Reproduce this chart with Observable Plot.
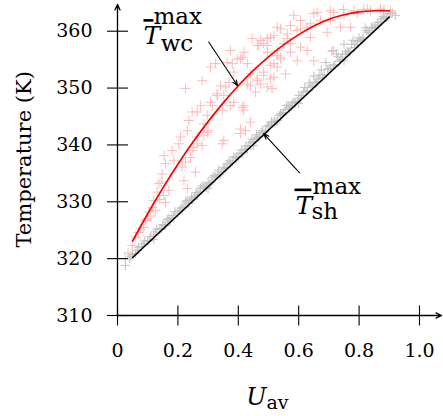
<!DOCTYPE html>
<html>
<head>
<meta charset="utf-8">
<script src="https://cdn.jsdelivr.net/npm/d3@7"></script>
<script src="https://cdn.jsdelivr.net/npm/@observablehq/plot@0.6"></script>
<style>
  html, body { margin: 0; padding: 0; background: #fff; }
  svg { display: block; }
</style>
</head>
<body>
<div id="chart"></div>
<script>
// ---- data ----
const xTicks = [0, 0.2, 0.4, 0.6, 0.8, 1.0];
const yTicks = [310, 320, 330, 340, 350, 360];

// fitted curve of max winding temperature (red)
const wcX = [0.05, 0.10, 0.15, 0.20, 0.25, 0.30, 0.35, 0.40, 0.45, 0.50, 0.55, 0.60, 0.65, 0.70, 0.75, 0.80, 0.85, 0.90];
const wcY = [323.1, 327.9, 332.4, 336.6, 340.5, 344.1, 347.4, 350.4, 353.1, 355.5, 357.6, 359.4, 360.9, 362.1, 362.9, 363.4, 363.6, 363.6];

// fitted line of max shell temperature (black)
const shX = [0.05, 0.90];
const shY = [320.2, 362.5];

// scattered samples, winding (pink)
const pinkX = [0.026,0.035,0.049,0.06,0.07,0.076,0.087,0.093,0.098,0.104,0.11,0.115,0.12,0.125,0.131,0.137,0.14,0.145,0.153,0.159,0.17,0.148,0.159,0.154,0.181,0.187,0.203,0.209,0.214,0.22,0.231,0.225,0.242,0.258,0.247,0.264,0.28,0.286,0.347,0.30,0.231,0.225,0.247,0.236,0.286,0.297,0.314,0.33,0.341,0.358,0.347,0.374,0.413,0.44,0.407,0.38,0.325,0.374,0.413,0.43,0.44,0.43,0.457,0.474,0.484,0.507,0.529,0.512,0.468,0.496,0.529,0.551,0.352,0.297,0.264,0.252,0.28,0.308,0.363,0.396,0.463,0.484,0.507,0.529,0.562,0.584,0.606,0.628,0.65,0.672,0.716,0.75,0.783,0.827,0.871,0.904,0.54,0.518,0.606,0.639,0.694,0.738,0.573,0.595,0.595,0.628,0.65,0.639,0.705,0.716,0.772,0.794,0.838,0.882,0.556,0.518,0.417,0.424,0.661,0.705,0.748,0.815,0.573,0.54,0.518,0.496,0.474,0.606,0.562,0.573,0.54,0.496,0.463,0.446,0.419,0.484,0.507,0.496,0.463,0.407,0.385,0.369,0.33,0.352,0.308,0.275,0.264,0.385,0.419,0.44,0.529,0.407];
const pinkY = [320.0,321.0,322.3,323.8,324.6,325.2,325.5,326.7,327.0,328.2,327.5,329.0,330.2,328.5,331.7,333.2,330.4,333.5,331.1,329.9,332.0,334.9,336.7,338.1,339.0,337.3,340.2,341.4,336.1,333.7,332.3,337.0,337.8,335.2,339.0,340.2,339.9,341.7,340.2,342.5,342.5,349.9,345.8,344.3,343.7,345.2,346.9,349.0,350.4,350.2,346.1,346.9,346.6,344.0,342.8,354.3,354.3,356.6,355.4,354.3,352.5,350.7,349.3,350.7,352.8,354.0,353.7,349.9,357.5,357.5,356.6,357.8,340.8,342.2,341.4,339.6,351.3,353.7,354.5,355.1,351.3,357.8,358.9,360.7,359.5,362.8,361.9,360.7,363.1,361.9,363.3,362.8,363.6,363.9,363.9,363.6,355.4,354.3,357.2,358.9,359.8,360.7,357.8,360.1,354.8,356.6,354.8,361.3,361.9,356.6,360.7,363.1,363.6,363.6,352.5,351.9,346.1,342.5,363.3,363.6,363.8,363.8,361.0,360.4,359.2,358.7,358.4,360.4,358.7,356.3,355.1,356.3,357.5,358.7,356.3,352.2,351.6,350.2,351.6,355.1,352.8,351.0,348.7,348.7,347.5,346.9,345.8,347.5,346.9,350.4,355.7,342.0];

// scattered samples, shell (gray)
const grayX = [0.026,0.04,0.05,0.06,0.07,0.08,0.09,0.10,0.11,0.12,0.13,0.14,0.15,0.16,0.17,0.18,0.19,0.20,0.21,0.22,0.23,0.24,0.25,0.26,0.27,0.28,0.29,0.30,0.31,0.32,0.33,0.34,0.35,0.36,0.37,0.38,0.39,0.40,0.41,0.42,0.43,0.44,0.45,0.46,0.47,0.48,0.49,0.50,0.51,0.52,0.53,0.54,0.55,0.56,0.57,0.58,0.59,0.60,0.61,0.62,0.63,0.64,0.65,0.66,0.67,0.68,0.69,0.70,0.71,0.72,0.73,0.74,0.75,0.76,0.77,0.78,0.79,0.80,0.81,0.82,0.83,0.84,0.85,0.86,0.87,0.88,0.89,0.90,0.91,0.12,0.30,0.45,0.60,0.75,0.92,0.155,0.255,0.355,0.455,0.555,0.655,0.755,0.855,0.205,0.305,0.405,0.505,0.605,0.705,0.805,
  0.045,0.065,0.085,0.105,0.125,0.145,0.165,0.175,0.185,0.215,0.225,0.235,0.245,0.265,0.275,0.285,0.295,0.315,0.325,0.335,0.345,0.365,0.375,0.385,0.395,0.415,0.425,0.435,0.445,0.465,0.475,0.485,0.495,0.515,0.525,0.535,0.545,0.565,0.575,0.585,0.595,0.615,0.625,0.635,0.645,0.665,0.675,0.685,0.695,0.715,0.725,0.735,0.745,0.765,0.775,0.785,0.795,0.815,0.825,0.835,0.845,0.865,0.875,0.885,0.895];
const grayY = [318.8,320.0,320.7,320.9,322.0,322.1,323.1,323.0,323.9,324.2,325.2,325.1,326.0,325.9,327.1,327.2,328.3,328.0,328.9,329.1,330.2,330.3,330.4,331.6,331.7,332.8,332.5,333.4,333.4,334.6,334.7,334.8,336.0,336.1,337.2,337.0,337.8,337.9,339.1,339.2,339.3,340.4,340.6,341.8,341.5,342.5,342.4,343.3,344.1,344.1,344.3,345.5,345.7,346.9,346.5,347.4,347.4,348.7,348.7,350.1,349.5,350.5,352.1,351.1,352.3,351.9,354.5,353.4,356.5,354.1,355.5,355.0,357.7,356.5,356.4,358.4,357.7,358.8,358.5,360.6,359.8,360.7,360.5,361.5,361.6,362.6,362.4,363.1,363.2,323.4,332.3,339.9,347.3,354.8,362.8,325.8,330.9,335.9,341.0,346.2,350.9,356.0,360.9,328.5,333.1,338.5,343.5,348.2,353.5,358.3,
  320.4,321.5,322.6,323.2,324.7,325.3,326.9,326.6,327.6,328.9,330.0,329.7,330.7,331.3,332.4,332.5,332.6,334.3,334.4,335.6,335.2,336.7,336.8,337.9,338.0,338.6,339.8,339.9,341.0,341.3,342.2,342.1,343.3,343.9,344.0,345.2,345.3,347.0,346.7,347.6,347.6,349.3,349.4,350.9,350.2,351.6,353.2,352.3,353.3,353.9,356.0,354.7,355.9,356.3,357.7,357.1,358.2,358.8,360.1,359.7,360.6,361.1,362.2,362.3,362.5];

// annotation anchors (data coordinates)
const axisEnd = {x: 1.073, y: 364.7};
const wcArrow = {x1: 0.302, y1: 358.1, x2: 0.398, y2: 350.4};
const shArrow = {x1: 0.603, y1: 335.1, x2: 0.484, y2: 342.0};
const wcLabel = {tx: 0.086, ty: 357.7, sx: 0.119, sy: 361.3, bx1: 0.086, bx2: 0.119, by: 361.9, sub: "wc", subx: 0.143, suby: 356.6};
const shLabel = {tx: 0.589, ty: 327.9, sx: 0.646, sy: 331.3, bx1: 0.586, bx2: 0.642, by: 332.1, sub: "sh", subx: 0.642, suby: 326.9};

// ---- build ----
const pink = pinkX.map((x, i) => ({x, y: pinkY[i]}));
const gray = grayX.map((x, i) => ({x, y: grayY[i]}));
const wc = wcX.map((x, i) => ({x, y: wcY[i]}));
const sh = shX.map((x, i) => ({x, y: shY[i]}));

const half = size => Math.sqrt(size / Math.PI);
const plus = {draw(ctx, size) { const r = half(size); ctx.moveTo(-r, 0); ctx.lineTo(r, 0); ctx.moveTo(0, -r); ctx.lineTo(0, r); }};
const hline = {draw(ctx, size) { const r = half(size); ctx.moveTo(-r, 0); ctx.lineTo(r, 0); }};
const vline = {draw(ctx, size) { const r = half(size); ctx.moveTo(0, -r); ctx.lineTo(0, r); }};

const serif = "DejaVu Serif";
const labels = [wcLabel, shLabel];

const chart = Plot.plot({
  width: 443,
  height: 416,
  marginLeft: 117,
  marginRight: 24,
  marginTop: 30.7,
  marginBottom: 101,
  x: {domain: [0, 1], axis: null},
  y: {domain: [310, 360], axis: null},
  style: {fontFamily: serif, fontSize: "19px", background: "white", overflow: "visible"},
  marks: [
    Plot.dot(pink, {x: "x", y: "y", symbol: plus, r: 5, stroke: "rgb(255,186,186)", fill: "none", strokeWidth: 1}),
    Plot.dot(gray, {x: "x", y: "y", symbol: plus, r: 4.5, stroke: "rgb(194,194,194)", fill: "none", strokeWidth: 1}),
    Plot.line(wc, {x: "x", y: "y", stroke: "#ff0000", strokeWidth: 1.7, curve: "natural"}),
    Plot.line(sh, {x: "x", y: "y", stroke: "#000", strokeWidth: 1.6}),
    // axes
    Plot.arrow([{x1: 0, y1: 310, x2: axisEnd.x, y2: 310}], {x1: "x1", y1: "y1", x2: "x2", y2: "y2", stroke: "#000", strokeWidth: 1.3, headLength: 7, headAngle: 50}),
    Plot.arrow([{x1: 0, y1: 310, x2: 0, y2: axisEnd.y}], {x1: "x1", y1: "y1", x2: "x2", y2: "y2", stroke: "#000", strokeWidth: 1.3, headLength: 7, headAngle: 50}),
    Plot.dot(yTicks, {x: () => 0, y: d => d, symbol: hline, r: 10.5, stroke: "#000", strokeWidth: 1.1}),
    Plot.dot(xTicks, {x: d => d, y: () => 310, symbol: vline, r: 10, stroke: "#000", strokeWidth: 1.1}),
    Plot.text(yTicks, {x: () => 0, y: d => d, text: d => String(d), textAnchor: "end", dx: -25, fontSize: 19, fill: "#000"}),
    Plot.text(xTicks, {x: d => d, y: () => 310, text: d => d === 0 ? "0" : d.toFixed(1), lineAnchor: "bottom", dy: 41.7, fontSize: 19, fill: "#000"}),
    // axis titles
    Plot.text(["Temperature (K)"], {frameAnchor: "left", textAnchor: "middle", rotate: -90, dx: -93, dy: -14, fontSize: 21, fill: "#000"}),
    Plot.text(["U"], {frameAnchor: "bottom", textAnchor: "end", lineAnchor: "bottom", dx: -2, dy: 89, fontStyle: "italic", fontSize: 24, fill: "#000"}),
    Plot.text(["av"], {frameAnchor: "bottom", textAnchor: "start", lineAnchor: "bottom", dx: -2, dy: 93, fontSize: 19, fill: "#000"}),
    // annotations
    Plot.arrow([wcArrow, shArrow], {x1: "x1", y1: "y1", x2: "x2", y2: "y2", stroke: "#000", strokeWidth: 1.1, headLength: 8, headAngle: 40}),
    Plot.text(labels, {x: "tx", y: "ty", text: () => "T", fontStyle: "italic", fontSize: 25, textAnchor: "start", lineAnchor: "bottom", fill: "#000"}),
    Plot.text(labels, {x: "sx", y: "sy", text: () => "max", fontSize: 23, textAnchor: "start", lineAnchor: "bottom", fill: "#000"}),
    Plot.text(labels, {x: "subx", y: "suby", text: "sub", fontSize: 23, textAnchor: "start", lineAnchor: "bottom", fill: "#000"}),
    Plot.link(labels, {x1: "bx1", x2: "bx2", y1: "by", y2: "by", stroke: "#000", strokeWidth: 2.6})
  ]
});
document.getElementById("chart").appendChild(chart);
</script>
</body>
</html>
